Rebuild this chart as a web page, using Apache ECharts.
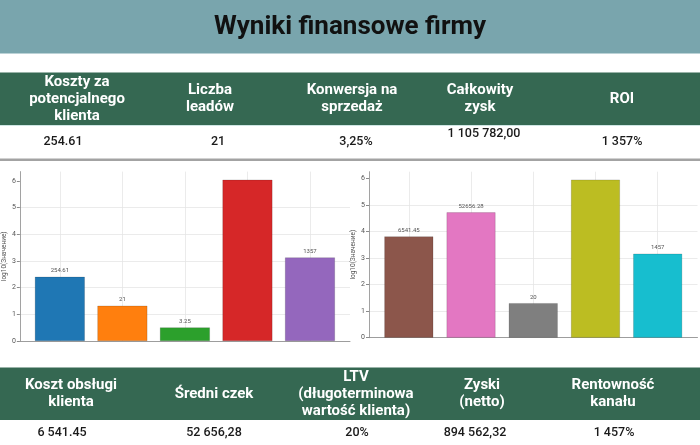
<!DOCTYPE html>
<html>
<head>
<meta charset="utf-8">
<script src="https://cdn.jsdelivr.net/npm/echarts@6/dist/echarts.min.js"></script>
<style>
html, body { margin: 0; padding: 0; background: #fff; }
#main { width: 700px; height: 445px; }
</style>
</head>
<body>
<div id="main"></div>
<script>
var title = 'Wyniki finansowe firmy';
var topHeaders = ['Koszty za\npotencjalnego\nklienta', 'Liczba\nleadów', 'Konwersja na\nsprzedaż', 'Całkowity\nzysk', 'ROI'];
var topValues = ['254.61', '21', '3,25%', '1 105 782,00', '1 357%'];
var bottomHeaders = ['Koszt obsługi\nklienta', 'Średni czek', 'LTV\n(długoterminowa\nwartość klienta)', 'Zyski\n(netto)', 'Rentowność\nkanału'];
var bottomValues = ['6 541.45', '52 656,28', '20%', '894 562,32', '1 457%'];

// wartości słupków (oś Y to log10 wartości)
var leftValues = [254.61, 21, 3.25, 1105782, 1357];
var leftLabels = ['254.61', '21', '3.25', '', '1357'];
var rightValues = [6541.45, 52656.28, 20, 894562.32, 1457];
var rightLabels = ['6541.45', '52656.28', '20', '', '1457'];
var yTicks = [0, 1, 2, 3, 4, 5, 6];
var yName = 'log10(Значение)';

var leftColors = ['#1f77b4', '#ff7f0e', '#2ca02c', '#d62728', '#9467bd'];
var rightColors = ['#8c564b', '#e377c2', '#7f7f7f', '#bcbd22', '#17becf'];

var font = 'Roboto, "Noto Sans", sans-serif';
var myChart = echarts.init(document.getElementById('main'));

function barData(values, colors) {
    return values.map(function (v, i) {
        return {
            value: [i, Math.log10(v)],
            itemStyle: { color: colors[i], borderColor: 'rgba(0,0,0,0.25)', borderWidth: 0.6 }
        };
    });
}

function textEl(text, x, y, opts) {
    return {
        type: 'text',
        x: x, y: y,
        style: Object.assign({
            text: text,
            textAlign: 'center',
            textVerticalAlign: 'middle',
            fontFamily: font,
            lineHeight: 17
        }, opts)
    };
}

var graphic = [
    { type: 'rect', shape: { x: 0, y: 0, width: 700, height: 53.5 }, style: { fill: '#79a5ad' } },
    { type: 'rect', shape: { x: 0, y: 72.5, width: 700, height: 52.5 }, style: { fill: '#356852' } },
    { type: 'rect', shape: { x: 0, y: 125, width: 700, height: 1 }, style: { fill: '#cfe6e4' } },
    { type: 'rect', shape: { x: 0, y: 158.5, width: 700, height: 2.5 }, style: { fill: '#a3a3a3' } },
    { type: 'rect', shape: { x: 0, y: 367.5, width: 700, height: 52.5 }, style: { fill: '#356852' } },
    textEl(title, 350, 27, { fontSize: 26, fontWeight: 'bold', fill: '#111' })
];

var topHeadX = [77, 210, 352, 480, 622];
var topValX = [63, 218, 356, 484, 622];
var botHeadX = [71, 214, 356, 482, 613];
var botValX = [62, 214, 357, 475, 614];

topHeaders.forEach(function (t, i) {
    graphic.push(textEl(t, topHeadX[i], 99, { fontSize: 15, fontWeight: 'bold', fill: '#fff' }));
});
topValues.forEach(function (t, i) {
    graphic.push(textEl(t, topValX[i], i === 3 ? 134 : 142, { fontSize: 12.5, fontWeight: 500, fill: '#1a1a1a' }));
});
bottomHeaders.forEach(function (t, i) {
    graphic.push(textEl(t, botHeadX[i], 394, { fontSize: 15, fontWeight: 'bold', fill: '#fff' }));
});
bottomValues.forEach(function (t, i) {
    graphic.push(textEl(t, botValX[i], 432.5, { fontSize: 12.5, fontWeight: 500, fill: '#1a1a1a' }));
});

function xAxisFor(gridIndex) {
    return {
        type: 'value',
        gridIndex: gridIndex,
        min: -0.64,
        max: 4.64,
        axisLine: { show: true, onZero: false, lineStyle: { color: '#8a8a8a', width: 0.8 } },
        axisTick: { show: false },
        axisLabel: { show: false },
        splitLine: { show: true, showMinLine: false, showMaxLine: false, lineStyle: { color: '#e6e6e6', width: 0.8 } }
    };
}

function yAxisFor(gridIndex, max, nameGap) {
    return {
        type: 'value',
        gridIndex: gridIndex,
        min: 0,
        max: max,
        interval: 1,
        name: yName,
        nameLocation: 'middle',
        nameGap: nameGap,
        nameTextStyle: { fontSize: 6.5, color: '#555', fontFamily: font },
        axisLine: { show: true, onZero: false, lineStyle: { color: '#8a8a8a', width: 0.8 } },
        axisTick: { show: true, length: 3, customValues: yTicks, lineStyle: { color: '#8a8a8a' } },
        axisLabel: { customValues: yTicks, fontSize: 7, color: '#555', margin: 4, fontFamily: font },
        splitLine: { show: true, showMaxLine: false, lineStyle: { color: '#e6e6e6', width: 0.8 } }
    };
}

function labelFor(labels) {
    return {
        show: true,
        position: 'top',
        distance: 3,
        fontSize: 6,
        color: '#555',
        fontFamily: font,
        formatter: function (p) { return labels[p.dataIndex]; }
    };
}

option = {
    animation: false,
    graphic: graphic,
    grid: [
        { left: 16, right: 350, top: 171.6, bottom: 104 },
        { left: 369, right: 2.5, top: 171.7, bottom: 107.3 }
    ],
    xAxis: [xAxisFor(0), xAxisFor(1)],
    yAxis: [yAxisFor(0, 6.346, 7), yAxisFor(1, 6.249, 6)],
    series: [
        {
            type: 'bar',
            xAxisIndex: 0,
            yAxisIndex: 0,
            barWidth: 50,
            data: barData(leftValues, leftColors),
            label: labelFor(leftLabels)
        },
        {
            type: 'bar',
            xAxisIndex: 1,
            yAxisIndex: 1,
            barWidth: 49,
            data: barData(rightValues, rightColors),
            label: labelFor(rightLabels)
        }
    ]
};
myChart.setOption(option);
</script>
</body>
</html>
